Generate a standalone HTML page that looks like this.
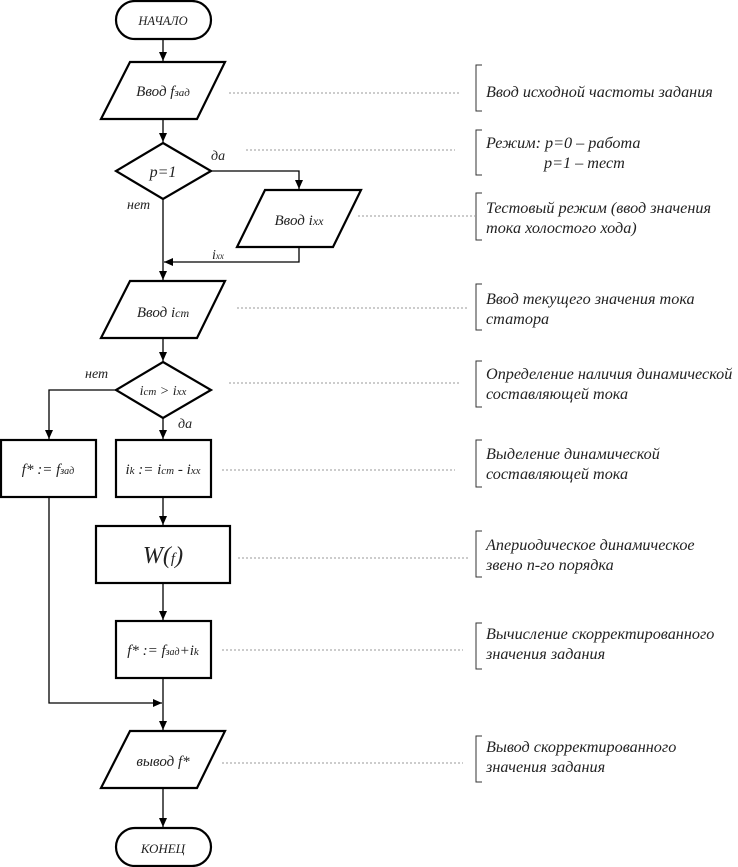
<!DOCTYPE html>
<html><head><meta charset="utf-8"><style>
html,body{margin:0;padding:0;background:#fff;}
svg{display:block;}
text{font-family:"Liberation Serif",serif;font-style:italic;fill:#222;}
</style></head><body>
<svg width="738" height="867" viewBox="0 0 738 867" xmlns="http://www.w3.org/2000/svg">
<defs><marker id="a" markerWidth="10" markerHeight="10" refX="9" refY="5" orient="auto" markerUnits="userSpaceOnUse"><path d="M0,1 L9,5 L0,9 z" fill="#000"/></marker></defs>
<g fill="none" stroke="#000" stroke-width="2.2">
<rect x="116" y="1" width="95" height="38" rx="19"/>
<polygon points="130,62 225,62 197,119 101,119"/>
<polygon points="163,143 211,171 163,199 116,171"/>
<polygon points="265,190 361,190 333,247 237,247"/>
<polygon points="130,281 225,281 197,338 101,338"/>
<polygon points="163,362 211,390 163,418 116,390"/>
<rect x="1" y="440" width="95" height="57"/>
<rect x="116" y="440" width="95" height="57"/>
<rect x="96" y="526" width="134" height="57"/>
<rect x="116" y="621" width="95" height="57"/>
<polygon points="130,731 225,731 197,788 101,788"/>
<rect x="116" y="828" width="95" height="38" rx="19"/>
</g>
<g fill="none" stroke="#000" stroke-width="1.3" marker-end="url(#a)">
<line x1="163" y1="39" x2="163" y2="61"/>
<line x1="163" y1="119" x2="163" y2="142"/>
<polyline points="211,171 299,171 299,189"/>
<line x1="163" y1="199" x2="163" y2="280"/>
<polyline points="299,247 299,262 164,262"/>
<line x1="163" y1="338" x2="163" y2="361"/>
<polyline points="116,390 49,390 49,439"/>
<line x1="163" y1="418" x2="163" y2="439"/>
<line x1="163" y1="497" x2="163" y2="525"/>
<line x1="163" y1="583" x2="163" y2="620"/>
<polyline points="49,497 49,703 162,703"/>
<line x1="163" y1="678" x2="163" y2="730"/>
<line x1="163" y1="788" x2="163" y2="827"/>
</g>
<g font-size="15" text-anchor="middle">
<text x="163" y="25" font-size="12.5">НАЧАЛО</text>
<text x="163" y="96">Ввод f<tspan font-size="11">зад</tspan></text>
<text x="163" y="177" font-size="16">p=1</text>
<text x="299" y="225">Ввод i<tspan font-size="12">хх</tspan></text>
<text x="163" y="317">Ввод i<tspan font-size="12">ст</tspan></text>
<text x="163" y="395" font-size="14">i<tspan font-size="11">ст</tspan> &gt; i<tspan font-size="11">хх</tspan></text>
<text x="48" y="474">f* :=  f<tspan font-size="10">зад</tspan></text>
<text x="163" y="474">i<tspan font-size="11">k</tspan> := i<tspan font-size="11">ст</tspan> - i<tspan font-size="11">хх</tspan></text>
<text x="163" y="563" font-size="24">W(<tspan font-size="15">f</tspan>)</text>
<text x="163" y="655">f* := f<tspan font-size="10">зад</tspan>+i<tspan font-size="11">k</tspan></text>
<text x="163" y="766">вывод f*</text>
<text x="163" y="853" font-size="13">КОНЕЦ</text>
</g>
<g font-size="14">
<text x="211" y="160">да</text>
<text x="127" y="209">нет</text>
<text x="212" y="259">i<tspan font-size="9">хх</tspan></text>
<text x="85" y="378">нет</text>
<text x="178" y="428">да</text>
</g>
<g stroke="#999" stroke-width="1" stroke-dasharray="2,2">
<line x1="229" y1="93" x2="460" y2="93"/>
<line x1="246" y1="150" x2="455" y2="150"/>
<line x1="358" y1="216" x2="475" y2="216"/>
<line x1="237" y1="308" x2="468" y2="308"/>
<line x1="229" y1="383" x2="460" y2="383"/>
<line x1="222" y1="470" x2="455" y2="470"/>
<line x1="238" y1="558" x2="468" y2="558"/>
<line x1="222" y1="650" x2="463" y2="650"/>
<line x1="222" y1="763" x2="463" y2="763"/>
</g>
<g fill="none" stroke="#333" stroke-width="1">
<polyline points="482,65 476,65 476,111 482,111"/>
<polyline points="482,130 476,130 476,175 482,175"/>
<polyline points="482,193 476,193 476,240 482,240"/>
<polyline points="482,284 476,284 476,330 482,330"/>
<polyline points="482,361 476,361 476,407 482,407"/>
<polyline points="482,440 476,440 476,487 482,487"/>
<polyline points="482,531 476,531 476,577 482,577"/>
<polyline points="482,623 476,623 476,669 482,669"/>
<polyline points="482,736 476,736 476,782 482,782"/>
</g>
<g font-size="16.2">
<text x="486" y="97">Ввод исходной частоты задания</text>
<text x="486" y="148">Режим: p=0 – работа</text>
<text x="544" y="168">p=1 – тест</text>
<text x="486" y="213">Тестовый режим (ввод значения</text>
<text x="486" y="233">тока холостого хода)</text>
<text x="486" y="304">Ввод текущего значения тока</text>
<text x="486" y="324">статора</text>
<text x="486" y="379">Определение наличия динамической</text>
<text x="486" y="399">составляющей тока</text>
<text x="486" y="459">Выделение динамической</text>
<text x="486" y="479">составляющей тока</text>
<text x="486" y="550">Апериодическое динамическое</text>
<text x="486" y="570">звено n-го порядка</text>
<text x="486" y="639">Вычисление скорректированного</text>
<text x="486" y="659">значения задания</text>
<text x="486" y="752">Вывод скорректированного</text>
<text x="486" y="772">значения задания</text>
</g>
</svg>
</body></html>
